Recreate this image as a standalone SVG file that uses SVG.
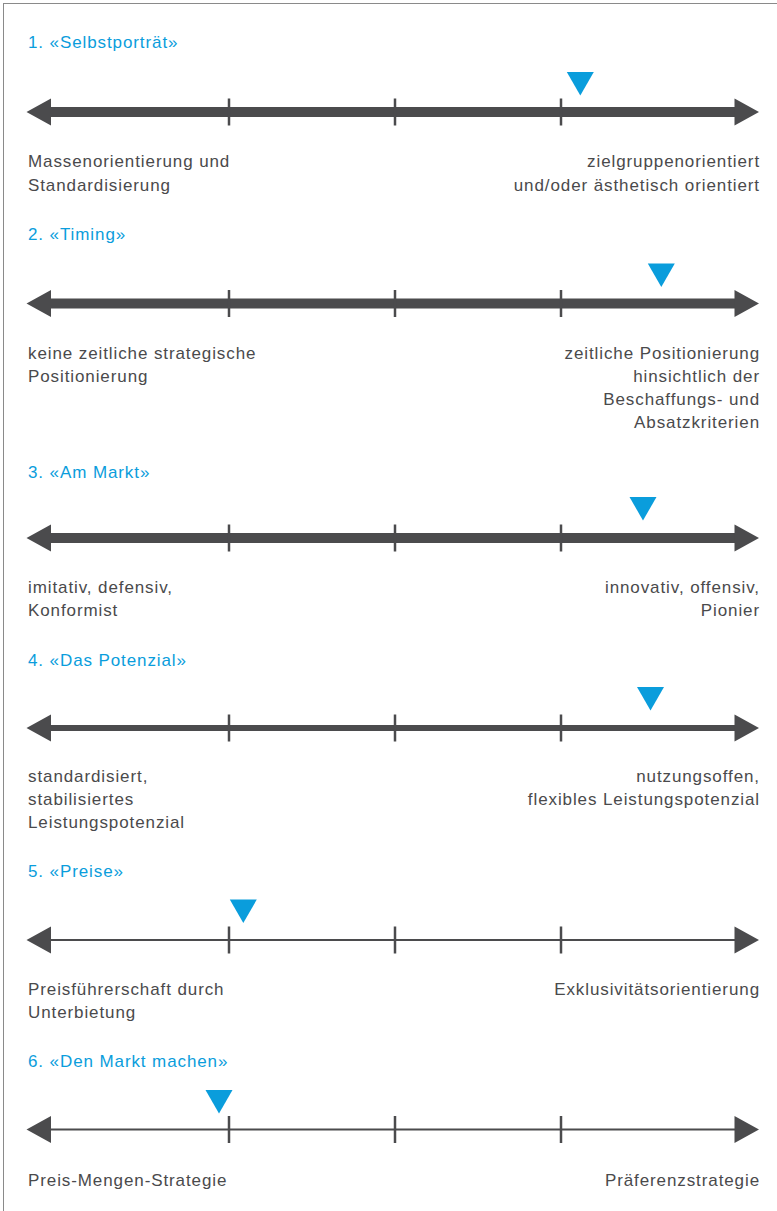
<svg xmlns="http://www.w3.org/2000/svg" xmlns:xlink="http://www.w3.org/1999/xlink" width="777" height="1211" viewBox="0 0 777 1211">
<style>
  .title { font-family: "Liberation Sans", Arial, sans-serif; font-size: 17px; letter-spacing: 0.9px; fill: #0a9ddc; }
  .lbl { font-family: "Liberation Sans", Arial, sans-serif; font-size: 17px; letter-spacing: 0.9px; fill: #4a4a4c; }
  .r { text-anchor: end; }
  .axis { stroke: #4b4b4d; fill: none; }
  .tick { stroke: #4b4b4d; stroke-width: 2.5; }
  .head { fill: #4b4b4d; }
  .mark { fill: #0a9ddc; }
</style>
<defs>
  <path id="headL" class="head" d="M26.5,0 L51,-13.5 L51,13.5 Z"/>
  <path id="headR" class="head" d="M759,0 L734.5,-13.5 L734.5,13.5 Z"/>
  <g id="ticks">
    <line class="tick" x1="229" y1="-13.5" x2="229" y2="13.5"/>
    <line class="tick" x1="395" y1="-13.5" x2="395" y2="13.5"/>
    <line class="tick" x1="561" y1="-13.5" x2="561" y2="13.5"/>
  </g>
  <path id="tri" class="mark" d="M-13.5,0 L13.5,0 L0,23.5 Z"/>
</defs>
<rect x="3.5" y="3.5" width="800" height="1300" fill="none" stroke="#8a8a8a" stroke-width="1"/>

<g id="connectors">
  <g id="axis1" transform="translate(0,112)">
    <line class="axis" x1="45" y1="0" x2="740" y2="0" stroke-width="10"/>
    <use xlink:href="#headL"/><use xlink:href="#headR"/><use xlink:href="#ticks"/>
  </g>
  <g id="axis2" transform="translate(0,303.5)">
    <line class="axis" x1="45" y1="0" x2="740" y2="0" stroke-width="10"/>
    <use xlink:href="#headL"/><use xlink:href="#headR"/><use xlink:href="#ticks"/>
  </g>
  <g id="axis3" transform="translate(0,538)">
    <line class="axis" x1="45" y1="0" x2="740" y2="0" stroke-width="10"/>
    <use xlink:href="#headL"/><use xlink:href="#headR"/><use xlink:href="#ticks"/>
  </g>
  <g id="axis4" transform="translate(0,728)">
    <line class="axis" x1="45" y1="0" x2="740" y2="0" stroke-width="6"/>
    <use xlink:href="#headL"/><use xlink:href="#headR"/><use xlink:href="#ticks"/>
  </g>
  <g id="axis5" transform="translate(0,940)">
    <line class="axis" x1="45" y1="0" x2="740" y2="0" stroke-width="2"/>
    <use xlink:href="#headL"/><use xlink:href="#headR"/><use xlink:href="#ticks"/>
  </g>
  <g id="axis6" transform="translate(0,1129.5)">
    <line class="axis" x1="45" y1="0" x2="740" y2="0" stroke-width="2"/>
    <use xlink:href="#headL"/><use xlink:href="#headR"/><use xlink:href="#ticks"/>
  </g>
</g>

<g id="scale1">
  <text class="title" x="28" y="48">1. «Selbstporträt»</text>
  <use xlink:href="#tri" x="580.3" y="72"/>
  <text class="lbl" x="28" y="167">Massenorientierung und</text>
  <text class="lbl" x="28" y="190.5">Standardisierung</text>
  <text class="lbl r" x="760" y="167">zielgruppenorientiert</text>
  <text class="lbl r" x="760" y="190.5">und/oder ästhetisch orientiert</text>
</g>

<g id="scale2">
  <text class="title" x="28" y="240">2. «Timing»</text>
  <use xlink:href="#tri" x="661.3" y="263.5"/>
  <text class="lbl" x="28" y="359">keine zeitliche strategische</text>
  <text class="lbl" x="28" y="382">Positionierung</text>
  <text class="lbl r" x="760" y="359">zeitliche Positionierung</text>
  <text class="lbl r" x="760" y="382">hinsichtlich der</text>
  <text class="lbl r" x="760" y="405">Beschaffungs- und</text>
  <text class="lbl r" x="760" y="428">Absatzkriterien</text>
</g>

<g id="scale3">
  <text class="title" x="28" y="477.5">3. «Am Markt»</text>
  <use xlink:href="#tri" x="643" y="497"/>
  <text class="lbl" x="28" y="593">imitativ, defensiv,</text>
  <text class="lbl" x="28" y="616">Konformist</text>
  <text class="lbl r" x="760" y="593">innovativ, offensiv,</text>
  <text class="lbl r" x="760" y="616">Pionier</text>
</g>

<g id="scale4">
  <text class="title" x="28" y="666">4. «Das Potenzial»</text>
  <use xlink:href="#tri" x="650.5" y="687"/>
  <text class="lbl" x="28" y="782">standardisiert,</text>
  <text class="lbl" x="28" y="805">stabilisiertes</text>
  <text class="lbl" x="28" y="828">Leistungspotenzial</text>
  <text class="lbl r" x="760" y="782">nutzungsoffen,</text>
  <text class="lbl r" x="760" y="805">flexibles Leistungspotenzial</text>
</g>

<g id="scale5">
  <text class="title" x="28" y="877">5. «Preise»</text>
  <use xlink:href="#tri" x="243.3" y="899.5"/>
  <text class="lbl" x="28" y="995">Preisführerschaft durch</text>
  <text class="lbl" x="28" y="1018">Unterbietung</text>
  <text class="lbl r" x="760" y="995">Exklusivitätsorientierung</text>
</g>

<g id="scale6">
  <text class="title" x="28" y="1067">6. «Den Markt machen»</text>
  <use xlink:href="#tri" x="219" y="1090"/>
  <text class="lbl" x="28" y="1186">Preis-Mengen-Strategie</text>
  <text class="lbl r" x="760" y="1186">Präferenzstrategie</text>
</g>
</svg>
